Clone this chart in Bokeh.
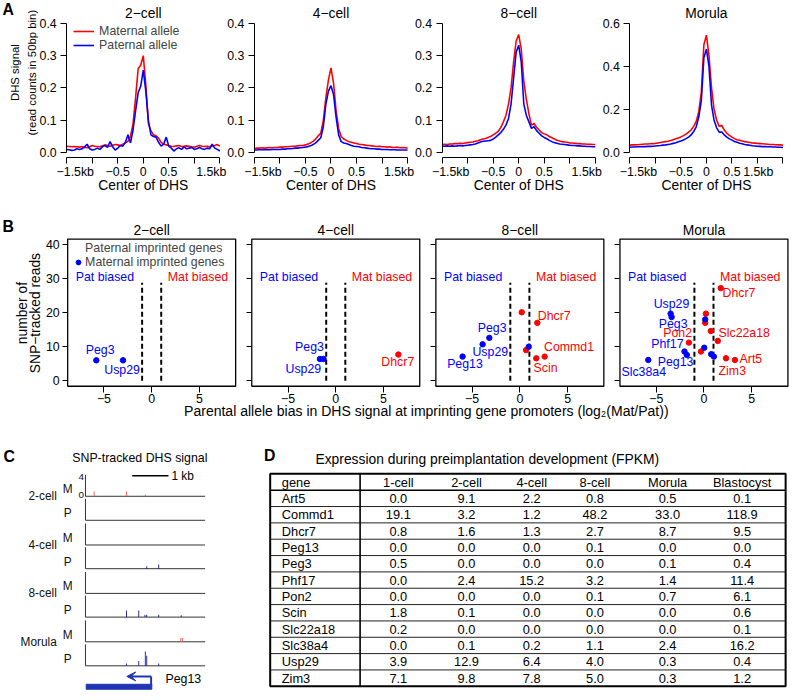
import math
from bokeh.plotting import figure
from bokeh.layouts import column, row
from bokeh.models import (Range1d, LinearAxis, FixedTicker, Label,
                          Legend, LegendItem, Arrow, VeeHead, ColumnDataSource)
from bokeh.core.properties import value
from bokeh.embed import file_html
from bokeh.resources import INLINE

# ============================ DATA ============================
# ---- Panel A: allele-specific DHS profiles (50bp bins, -1.5kb .. +1.5kb)
a_stages = ["2\u2212cell", "4\u2212cell", "8\u2212cell", "Morula"]
a_bins_kb = [round(-1.5 + 0.05 * i, 2) for i in range(61)]
a_ymax = [0.4, 0.4, 0.4, 0.6]

a2_mat = [0.020, 0.019, 0.018, 0.019, 0.018, 0.017, 0.019, 0.016, 0.015, 0.018,
          0.022, 0.020, 0.019, 0.018, 0.021, 0.024, 0.022, 0.020, 0.023, 0.025,
          0.024, 0.022, 0.026, 0.030, 0.035, 0.050, 0.090, 0.170, 0.260, 0.270,
          0.300,
          0.210, 0.090, 0.068, 0.055, 0.052, 0.045, 0.032, 0.026, 0.024, 0.022,
          0.020, 0.019, 0.021, 0.022, 0.019, 0.020, 0.021, 0.020, 0.018, 0.017,
          0.020, 0.022, 0.020, 0.019, 0.020, 0.018, 0.021, 0.022, 0.025, 0.020]
a2_pat = [0.010, 0.009, 0.007, 0.008, 0.012, 0.010, 0.012, 0.018, 0.026, 0.012,
          0.008, 0.010, 0.014, 0.010, 0.018, 0.022, 0.016, 0.034, 0.018, 0.008,
          0.014, 0.022, 0.020, 0.032, 0.055, 0.030, 0.070, 0.130, 0.185, 0.205,
          0.255,
          0.190, 0.100, 0.055, 0.050, 0.048, 0.032, 0.020, 0.026, 0.048, 0.020,
          0.014, 0.005, 0.012, 0.015, 0.010, 0.018, 0.012, 0.014, 0.016, 0.010,
          0.012, 0.016, 0.012, 0.010, 0.014, 0.012, 0.026, 0.014, 0.010, 0.005]
a4_mat = [0.012, 0.014, 0.014, 0.015, 0.014, 0.015, 0.016, 0.015, 0.016, 0.016,
          0.017, 0.017, 0.018, 0.018, 0.019, 0.020, 0.020, 0.021, 0.022, 0.022,
          0.024, 0.027, 0.030, 0.035, 0.042, 0.052, 0.060, 0.100, 0.170, 0.225,
          0.262,
          0.215, 0.130, 0.075, 0.050, 0.042, 0.038, 0.034, 0.032, 0.030, 0.028,
          0.026, 0.025, 0.024, 0.022, 0.022, 0.021, 0.020, 0.019, 0.020, 0.018,
          0.018, 0.017, 0.018, 0.016, 0.016, 0.017, 0.015, 0.016, 0.015, 0.014]
a4_pat = [0.008, 0.008, 0.009, 0.009, 0.009, 0.010, 0.009, 0.010, 0.010, 0.010,
          0.010, 0.011, 0.011, 0.012, 0.012, 0.013, 0.014, 0.014, 0.015, 0.016,
          0.017, 0.019, 0.021, 0.025, 0.030, 0.038, 0.046, 0.080, 0.150, 0.190,
          0.207,
          0.180, 0.110, 0.055, 0.034, 0.030, 0.028, 0.025, 0.022, 0.020, 0.019,
          0.018, 0.016, 0.015, 0.014, 0.013, 0.012, 0.012, 0.011, 0.011, 0.010,
          0.010, 0.010, 0.009, 0.009, 0.009, 0.008, 0.008, 0.008, 0.008, 0.008]
a8_mat = [0.025, 0.026, 0.025, 0.027, 0.027, 0.028, 0.028, 0.029, 0.028, 0.030,
          0.031, 0.032, 0.033, 0.035, 0.037, 0.040, 0.042, 0.044, 0.047, 0.050,
          0.055, 0.060, 0.066, 0.078, 0.095, 0.115, 0.150, 0.200, 0.280, 0.345,
          0.365,
          0.320, 0.220, 0.165, 0.120, 0.085, 0.090, 0.078, 0.070, 0.062, 0.058,
          0.055, 0.050, 0.046, 0.042, 0.038, 0.036, 0.034, 0.033, 0.032, 0.030,
          0.030, 0.029, 0.028, 0.028, 0.027, 0.027, 0.026, 0.026, 0.025, 0.025]
a8_pat = [0.020, 0.020, 0.021, 0.020, 0.021, 0.020, 0.021, 0.022, 0.021, 0.022,
          0.023, 0.024, 0.025, 0.027, 0.030, 0.033, 0.035, 0.036, 0.037, 0.038,
          0.042, 0.048, 0.055, 0.062, 0.072, 0.085, 0.105, 0.150, 0.230, 0.310,
          0.332,
          0.280, 0.150, 0.115, 0.095, 0.075, 0.080, 0.068, 0.060, 0.052, 0.047,
          0.043, 0.038, 0.034, 0.031, 0.029, 0.027, 0.026, 0.025, 0.024, 0.023,
          0.022, 0.022, 0.021, 0.021, 0.020, 0.020, 0.019, 0.019, 0.018, 0.018]
amo_mat = [0.035, 0.036, 0.036, 0.037, 0.038, 0.039, 0.040, 0.040, 0.041, 0.042,
           0.043, 0.045, 0.047, 0.049, 0.051, 0.053, 0.056, 0.060, 0.064, 0.068,
           0.073, 0.079, 0.086, 0.095, 0.105, 0.122, 0.145, 0.190, 0.280, 0.500,
           0.545,
           0.450, 0.300, 0.200, 0.150, 0.122, 0.127, 0.105, 0.090, 0.080, 0.072,
           0.065, 0.060, 0.057, 0.054, 0.051, 0.049, 0.047, 0.045, 0.044, 0.043,
           0.042, 0.041, 0.040, 0.039, 0.038, 0.038, 0.037, 0.036, 0.036, 0.034]
amo_pat = [0.025, 0.026, 0.026, 0.027, 0.027, 0.028, 0.028, 0.029, 0.029, 0.030,
           0.031, 0.032, 0.033, 0.035, 0.036, 0.038, 0.040, 0.043, 0.046, 0.050,
           0.054, 0.059, 0.065, 0.072, 0.082, 0.098, 0.120, 0.165, 0.240, 0.440,
           0.480,
           0.400, 0.220, 0.150, 0.115, 0.095, 0.096, 0.082, 0.072, 0.064, 0.058,
           0.052, 0.048, 0.044, 0.041, 0.038, 0.036, 0.034, 0.032, 0.031, 0.030,
           0.029, 0.028, 0.028, 0.027, 0.027, 0.026, 0.026, 0.025, 0.025, 0.024]

# ---- Panel B: parental allele bias (log2 Mat/Pat) vs SNP-tracked reads
# type: "pat" = paternal imprinted gene (red), "mat" = maternal imprinted gene (blue)
b2_bias = [-5.8, -3.0]
b2_reads = [6.0, 6.0]
b2_type = ["mat", "mat"]
b4_bias = [-1.66, -1.28, 6.56]
b4_reads = [6.4, 6.4, 7.7]
b4_type = ["mat", "mat", "pat"]
b8_bias = [0.2, 1.83, -3.2, -3.9, -6.0, 0.93, 0.65, 1.72, 2.6]
b8_reads = [20.1, 17.0, 12.6, 10.7, 7.1, 10.0, 9.0, 6.6, 7.1]
b8_type = ["pat", "pat", "mat", "mat", "mat", "mat", "pat", "pat", "pat"]
bmo_bias = [1.76, -3.49, -3.39, 0.21, 0.13, 0.13, -1.58, 0.72, 1.45,
            -2.04, -1.80, 0.03, -0.31, 0.76, 1.04, 2.31, 3.24, -5.83]
bmo_reads = [27.2, 19.7, 18.7, 19.7, 18.0, 17.0, 11.2, 14.6, 11.7,
             8.6, 7.6, 9.7, 8.6, 7.8, 7.1, 6.6, 6.1, 6.1]
bmo_type = ["pat", "mat", "mat", "pat", "mat", "pat", "pat", "pat", "pat",
            "mat", "mat", "mat", "pat", "mat", "mat", "pat", "pat", "mat"]
# gene names shown
b2_names = ["Peg3", "Usp29"]
b2_ntype = ["mat", "mat"]
b4_names = ["Peg3", "Usp29", "Dhcr7"]
b4_ntype = ["mat", "mat", "pat"]
b8_names = ["Dhcr7", "Peg3", "Usp29", "Peg13", "Scin", "Commd1"]
b8_ntype = ["pat", "mat", "mat", "mat", "pat", "pat"]
bmo_names = ["Dhcr7", "Usp29", "Peg3", "Pon2", "Slc22a18", "Phf17", "Peg13",
             "Slc38a4", "Zim3", "Art5"]
bmo_ntype = ["pat", "mat", "mat", "pat", "pat", "mat", "mat", "mat", "pat", "pat"]

# ---- Panel C: SNP-tracked DHS signal at Peg13 (kb from left edge of view, signal)
c_stages = ["2-cell", "4-cell", "8-cell", "Morula"]
c_alleles = ["M", "P", "M", "P", "M", "P", "M", "P"]
c_pos = [[0.24, 1.13, 1.65], [], [], [1.69, 2.02], [],
         [1.13, 1.47, 1.64, 1.69, 2.02, 2.64], [2.63, 2.68],
         [1.13, 1.47, 1.65, 1.69, 2.02]]
c_sig = [[1.0, 1.0, 0.35], [], [], [0.5, 0.9], [],
         [1.4, 1.4, 0.5, 0.5, 0.5, 0.4], [0.8, 0.8],
         [0.5, 1.0, 3.0, 2.1, 0.5]]
c_gene_name = "Peg13"
c_gene_start, c_gene_end, c_tss, c_arrow_tip = 0.02, 1.83, 1.81, 1.14
c_view_kb = 3.3
c_scale_kb = 1.0

# ---- Panel D: expression table (FPKM)
d_cols = ["1-cell", "2-cell", "4-cell", "8-cell", "Morula", "Blastocyst"]
d_genes = ["Art5", "Commd1", "Dhcr7", "Peg13", "Peg3", "Phf17", "Pon2", "Scin",
           "Slc22a18", "Slc38a4", "Usp29", "Zim3"]
d_1cell = [0.0, 19.1, 0.8, 0.0, 0.5, 0.0, 0.0, 1.8, 0.2, 0.0, 3.9, 7.1]
d_2cell = [9.1, 3.2, 1.6, 0.0, 0.0, 2.4, 0.0, 0.1, 0.0, 0.1, 12.9, 9.8]
d_4cell = [2.2, 1.2, 1.3, 0.0, 0.0, 15.2, 0.0, 0.0, 0.0, 0.2, 6.4, 7.8]
d_8cell = [0.8, 48.2, 2.7, 0.1, 0.0, 3.2, 0.1, 0.0, 0.0, 1.1, 4.0, 5.0]
d_morula = [0.5, 33.0, 8.7, 0.0, 0.1, 1.4, 0.7, 0.0, 0.0, 2.4, 0.3, 0.3]
d_blast = [0.1, 118.9, 9.5, 0.0, 0.4, 11.4, 6.1, 0.6, 0.1, 16.2, 0.4, 1.2]

# ============================ STYLE / LAYOUT ============================
S = 0.988
FONT = "Liberation Sans"
RED, BLUE = "#ff0000", "#0000ff"
TYPE_COL = {"pat": RED, "mat": BLUE}
W_ALL = round(800 * S)
H_ALL = round(700 * S)
HA = round(200 * S)
HB = round(225 * S)
HC = H_ALL - HA - HB
NB = "\u00a0" * 5


def F(px):
    return f"{px * S:.2f}px"


def style_axis(ax, tick_out, standoff, size=12.5, line=True):
    ax.axis_line_color = "black" if line else None
    ax.axis_line_width = 1
    ax.major_tick_line_color = "black"
    ax.major_tick_line_width = 1
    ax.major_tick_in = 0
    ax.major_tick_out = tick_out
    ax.minor_tick_in = 0
    ax.minor_tick_out = 0
    ax.major_label_standoff = standoff
    ax.major_label_text_font = FONT
    ax.major_label_text_font_size = F(size)
    ax.major_label_text_color = "black"


def lab(p, x, y, text, size, xr="default", yr="default", align="center",
        angle=0.0, bold=False, color="black"):
    p.add_layout(Label(x=x, y=y, text=text, x_range_name=xr, y_range_name=yr,
                       text_align=align, text_baseline="middle", angle=angle,
                       text_font=FONT, text_font_size=F(size),
                       text_font_style="bold" if bold else "normal",
                       text_color=color))


def canvas_fig(w, h, xr, yr):
    # the plotting frame covers the whole canvas; every axis is placed inside it
    return figure(width=w, height=h, x_range=xr, y_range=yr, x_axis_type=None,
                  y_axis_type=None, toolbar_location=None, output_backend="svg",
                  min_border=0, min_border_left=0, min_border_right=0,
                  min_border_top=0, min_border_bottom=0, outline_line_color=None)


# ============================ PANEL A ============================
A_X0, A_STEP, A_PXKB = 67.0, 190.0, 155.0 / 3.0
A_Y0, A_PXU = 154.0, 131.0
A_AXIS_Y = 159.2


def a_kb(rx, i):
    return (rx - (A_X0 + A_STEP * i)) / A_PXKB - 1.5


def a_val(ry, sc):
    return (A_Y0 - ry) * sc / A_PXU


xrA = [Range1d(a_kb(0, i), a_kb(W_ALL / S, i)) for i in range(4)]
yrA = Range1d(a_val(HA / S, 0.4), a_val(0, 0.4))
yrA6 = Range1d(a_val(HA / S, 0.6), a_val(0, 0.6))
pA = canvas_fig(W_ALL, HA, xrA[0], yrA)
pA.extra_x_ranges = {f"p{i}": xrA[i] for i in range(1, 4)}
pA.extra_y_ranges = {"s6": yrA6}
xnA = ["default", "p1", "p2", "p3"]
seriesA = [(a2_mat, a2_pat), (a4_mat, a4_pat), (a8_mat, a8_pat), (amo_mat, amo_pat)]
legA_r = []
for i, (m, pt) in enumerate(seriesA):
    yn = "s6" if a_ymax[i] == 0.6 else "default"
    rm = pA.line(a_bins_kb, m, x_range_name=xnA[i], y_range_name=yn,
                 line_color=RED, line_width=1.6 * S)
    rp = pA.line(a_bins_kb, pt, x_range_name=xnA[i], y_range_name=yn,
                 line_color=BLUE, line_width=1.6 * S)
    if i == 0:
        legA_r = [rm, rp]
    xa = LinearAxis(x_range_name=xnA[i], fixed_location=a_val(A_AXIS_Y, 0.4),
                    bounds=(-1.5, 1.5),
                    ticker=FixedTicker(ticks=[-1.5, -1.0, -0.5, 0.0, 0.5, 1.0, 1.5]),
                    major_label_overrides={-1.5: NB + "\u22121.5kb", -1.0: "",
                                           -0.5: "\u22120.5", 0.0: "0", 0.5: "0.5",
                                           1.0: "", 1.5: "1.5kb" + NB})
    style_axis(xa, round(6 * S), 1)
    pA.add_layout(xa, "below")
    sc = a_ymax[i]
    yt = [0.0, 0.1, 0.2, 0.3, 0.4] if sc == 0.4 else [0.0, 0.2, 0.4, 0.6]
    ya = LinearAxis(x_range_name=xnA[i], y_range_name=yn, fixed_location=-1.5,
                    bounds=(0.0, sc), ticker=FixedTicker(ticks=yt),
                    major_label_overrides={v: f"{v:.1f}" for v in yt})
    style_axis(ya, round(6 * S), 4)
    pA.add_layout(ya, "left")
    lab(pA, 0.0, a_val(13, 0.4), a_stages[i], 14, xr=xnA[i])
    lab(pA, 0.0, a_val(187, 0.4), "Center of DHS", 14, xr=xnA[i])

lab(pA, a_kb(15, 0), a_val(73, 0.4), "DHS signal", 11.5, angle=math.pi / 2)
lab(pA, a_kb(32, 0), a_val(73, 0.4), "(read counts in 50bp bin)", 11.5, angle=math.pi / 2)
lab(pA, a_kb(2, 0), a_val(9, 0.4), "A", 16, align="left", bold=True)
legA = Legend(items=[LegendItem(label="Maternal allele", renderers=[legA_r[0]]),
                     LegendItem(label="Paternal allele", renderers=[legA_r[1]])],
              location=(74 * S, HA - 53 * S),
              glyph_width=round(21 * S), glyph_height=round(14 * S),
              label_height=round(14 * S), label_standoff=round(5 * S), spacing=0,
              padding=0, margin=0, border_line_color=None, background_fill_alpha=0,
              label_text_font=FONT, label_text_font_size=F(12.5))
pA.add_layout(legA)

# ============================ PANEL B ============================
B_Z0, B_ZSTEP, B_PXX = 153.0, 186.33, 9.66
B_Y0, B_PXY, B_TOP = 384.5, 3.449, 200.0


def b_x(rx, i):
    return (rx - (B_Z0 + B_ZSTEP * i)) / B_PXX


def b_y(ry):
    return (B_Y0 - ry) / B_PXY


xrB = [Range1d(b_x(0, i), b_x(W_ALL / S, i)) for i in range(4)]
yrB = Range1d(b_y(B_TOP + HB / S), b_y(B_TOP))
pB = canvas_fig(W_ALL, HB, xrB[0], yrB)
pB.extra_x_ranges = {f"p{i}": xrB[i] for i in range(1, 4)}
xnB = ["default", "p1", "p2", "p3"]

B_XLIM, B_YLIM = (-8.8, 8.8), (-1.6, 41.6)
B_THR, B_THR_TOP = 1.0, 28.8
pointsB = [(b2_bias, b2_reads, b2_type), (b4_bias, b4_reads, b4_type),
           (b8_bias, b8_reads, b8_type), (bmo_bias, bmo_reads, bmo_type)]
namesB = [(b2_names, b2_ntype), (b4_names, b4_ntype), (b8_names, b8_ntype),
          (bmo_names, bmo_ntype)]
# label placement (data units of each panel)
name_xy = [([-5.4, -3.1], [9.1, 3.3]),
           ([-2.75, -3.4, 6.5], [10.0, 3.6, 5.5]),
           ([3.6, -2.9, -3.1, -5.75, 2.7, 5.15], [19.0, 15.5, 8.35, 4.8, 3.7, 10.0]),
           ([3.67, -3.4, -3.23, -2.76, 4.22, -3.83, -2.97, -6.31, 2.97, 4.92],
            [25.7, 22.6, 16.8, 13.9, 13.9, 10.8, 5.65, 2.55, 2.75, 6.3])]
legB_r = {}
for i in range(4):
    xn = xnB[i]
    pB.quad(left=B_XLIM[0], right=B_XLIM[1], bottom=B_YLIM[0], top=B_YLIM[1],
            x_range_name=xn, fill_color=None, line_color="black", line_width=1.3 * S)
    pB.segment(x0=[-B_THR, B_THR], y0=[0, 0], x1=[-B_THR, B_THR],
               y1=[B_THR_TOP, B_THR_TOP], x_range_name=xn, line_color="black",
               line_width=2 * S, line_dash="5 3")
    bias, reads, typ = pointsB[i]
    for t in ("pat", "mat"):
        xs = [b for b, tt in zip(bias, typ) if tt == t]
        ys = [r for r, tt in zip(reads, typ) if tt == t]
        r = pB.scatter(xs, ys, x_range_name=xn, size=5.5 * S, marker="circle",
                       fill_color=TYPE_COL[t], line_color=TYPE_COL[t])
        if i == 0:
            legB_r[t] = r
    nm, nt = namesB[i]
    srcn = ColumnDataSource(dict(x=name_xy[i][0], y=name_xy[i][1], t=nm,
                                 tcol=[TYPE_COL[k] for k in nt]))
    pB.text(x="x", y="y", text="t", source=srcn, x_range_name=xn, text_color="tcol",
            text_align="center", text_baseline="middle",
            text_font=value(FONT), text_font_size=value(F(12.5)))
    pB.text(x=[-4.9, 4.85], y=[30.6, 30.6], text=["Pat biased", "Mat biased"],
            x_range_name=xn, text_color=[BLUE, RED], text_align="center",
            text_baseline="middle", text_font=value(FONT), text_font_size=value(F(12.5)))
    xa = LinearAxis(x_range_name=xn, fixed_location=B_YLIM[0],
                    ticker=FixedTicker(ticks=[-5, 0, 5]),
                    major_label_overrides={-5: "\u22125", 0: "0", 5: "5"})
    style_axis(xa, round(6 * S), 2, line=False)
    pB.add_layout(xa, "below")
    yov = {} if i == 0 else {v: "" for v in (0, 10, 20, 30, 40)}
    ya = LinearAxis(x_range_name=xn, fixed_location=B_XLIM[0],
                    ticker=FixedTicker(ticks=[0, 10, 20, 30, 40]),
                    major_label_overrides=yov)
    style_axis(ya, round(5 * S), 3, line=False)
    pB.add_layout(ya, "left")
    lab(pB, 0.0, b_y(232), a_stages[i], 14, xr=xn)

lab(pB, b_x(431, 0), b_y(415),
    "Parental allele bias in DHS signal at imprinting gene promoters (log\u2082(Mat/Pat))", 14.2)
lab(pB, b_x(22, 0), b_y(316), "number of", 14, angle=math.pi / 2)
lab(pB, b_x(35, 0), b_y(316), "SNP\u2212tracked reads", 14, angle=math.pi / 2)
lab(pB, b_x(2, 0), b_y(228), "B", 16, align="left", bold=True)
legB = Legend(items=[LegendItem(label="Paternal imprinted genes", renderers=[legB_r["pat"]]),
                     LegendItem(label="Maternal imprinted genes", renderers=[legB_r["mat"]])],
              location=(73 * S, HB - 72 * S),
              glyph_width=round(12 * S), glyph_height=round(14 * S),
              label_height=round(14 * S), label_standoff=1, spacing=0,
              padding=0, margin=0, border_line_color=None, background_fill_alpha=0,
              label_text_font=FONT, label_text_font_size=F(12.5))
pB.add_layout(legB)

# ============================ PANEL C ============================
WC = round(222 * S)
WD = W_ALL - WC
C_X0, C_PXKB, C_TOP = 86.0, 36.7, 425.0
C_BOT = C_TOP + HC / S
C_PXU = 19.3 / 4.0
c_base = [501.7, 526.0, 551.0, 575.0, 600.0, 624.0, 649.0, 673.3]


def c_kb(rx):
    return (rx - C_X0) / C_PXKB


pC = canvas_fig(WC, HC, Range1d(c_kb(0), c_kb(WC / S)), Range1d(C_BOT, C_TOP))
pC.extra_y_ranges = {f"t{k}": Range1d((b - C_BOT) / C_PXU, (b - C_TOP) / C_PXU)
                     for k, b in enumerate(c_base)}
TRACK_COL = "#333333"
for k in range(8):
    yn = f"t{k}"
    pC.segment(x0=[0, 0], y0=[0, 0], x1=[0, c_view_kb], y1=[4.5, 0], y_range_name=yn,
               line_color=TRACK_COL, line_width=1)
    col = "#ff5050" if c_alleles[k] == "M" else "#10109a"
    if c_pos[k]:
        pC.vbar(x=c_pos[k], top=c_sig[k], bottom=0, width=0.024, y_range_name=yn,
                fill_color=col, line_color=None)
pC.text(x=[c_kb(57)] * 4, y=[c_base[0], c_base[2], c_base[4], c_base[6]], text=c_stages,
        text_align="right", text_baseline="middle", text_font=value(FONT),
        text_font_size=value(F(12)), text_color="#111111")
pC.text(x=[c_kb(68)] * 8, y=[b - 7 for b in c_base], text=c_alleles,
        text_align="center", text_baseline="middle", text_font=value(FONT),
        text_font_size=value(F(12)), text_color="#111111")
pC.text(x=[c_kb(84.5)] * 2, y=[4.0, 0.35], text=["4", "0"], y_range_name="t0",
        text_align="right", text_baseline="middle", text_font=value(FONT),
        text_font_size=value(F(10)), text_color="#111111")
lab(pC, c_kb(141), 463, "SNP-tracked DHS signal", 12.5)
lab(pC, c_kb(3), 461, "C", 16, align="left", bold=True)
sb0 = c_kb(133.3)
pC.segment(x0=[sb0], y0=[481], x1=[sb0 + c_scale_kb], y1=[481], line_color="black",
           line_width=1.6 * S)
lab(pC, c_kb(173), 481, "1 kb", 12, align="left")
GENE = "#1f35b5"
pC.hbar(y=[694.5], left=[c_gene_start], right=[c_gene_end], height=5.0,
        fill_color=GENE, line_color=GENE)
pC.segment(x0=[c_tss], y0=[693], x1=[c_tss], y1=[684], line_color=GENE, line_width=2 * S)
pC.add_layout(Arrow(x_start=c_tss, y_start=684, x_end=c_arrow_tip, y_end=684,
                    line_color=GENE, line_width=2 * S,
                    end=VeeHead(size=9 * S, fill_color=GENE, line_color=GENE)))
lab(pC, c_kb(167), 687, c_gene_name, 12.5, align="left")

# ============================ PANEL D ============================
D_X0 = 222.0
T_TOP, ROW_H = 479.0, 16.54
TB_L, TB_R, TB_DIV, TB_TXT = 273.3, 795.0, 364.3, 285.0
d_colx = [403.0, 472.0, 538.0, 602.0, 675.5, 751.0]


def d_row(ry):
    return (ry - T_TOP) / ROW_H - 0.5


pD = canvas_fig(WD, HC, Range1d(D_X0, D_X0 + WD / S), Range1d(d_row(C_BOT), d_row(C_TOP)))
nrows = len(d_genes) + 1
pD.segment(x0=[TB_L] * (nrows - 2), x1=[TB_R] * (nrows - 2),
           y0=[r + 0.5 for r in range(1, nrows - 1)],
           y1=[r + 0.5 for r in range(1, nrows - 1)], line_color="#222222", line_width=1)
pD.segment(x0=[TB_L], x1=[TB_R], y0=[0.5], y1=[0.5], line_color="black", line_width=1.6)
pD.segment(x0=[TB_DIV], x1=[TB_DIV], y0=[-0.5], y1=[nrows - 0.5], line_color="black",
           line_width=1.6)
pD.quad(left=[TB_L], right=[TB_R], top=[-0.5], bottom=[nrows - 0.5], fill_color=None,
        line_color="black", line_width=2)
txt = dict(text_baseline="middle", text_font=value(FONT), text_font_size=value(F(13)),
           text_color="black")
pD.text(x=[TB_TXT] * nrows, y=list(range(nrows)), text=["gene"] + d_genes,
        text_align="left", **txt)
pD.text(x=d_colx, y=[0] * len(d_cols), text=d_cols, text_align="center", **txt)
for cx, vals in zip(d_colx, [d_1cell, d_2cell, d_4cell, d_8cell, d_morula, d_blast]):
    pD.text(x=[cx] * len(vals), y=list(range(1, nrows)), text=[f"{v:.1f}" for v in vals],
            text_align="center", **txt)
lab(pD, 493, d_row(464), "Expression during preimplantation development (FPKM)", 14)
lab(pD, 267, d_row(460), "D", 16, align="left", bold=True)

layout = column(pA, pB, row(pC, pD))
open("out.html", "w").write(file_html(layout, INLINE, title="DHS allele bias"))
